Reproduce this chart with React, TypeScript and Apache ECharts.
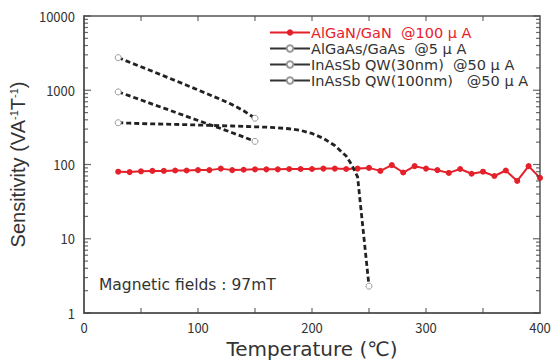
import React, { useEffect, useRef } from "react";
import * as echarts from "echarts";

const redTemps = [30, 40, 50, 60, 70, 80, 90, 100, 110, 120, 130, 140, 150, 160, 170, 180, 190, 200, 210, 220, 230, 240, 250, 260, 270, 280, 290, 300, 310, 320, 330, 340, 350, 360, 370, 380, 390, 400];
const redValues = [80, 79, 81, 82, 82, 83, 83, 84, 84, 88, 84, 85, 86, 86, 86, 87, 87, 87, 88, 88, 87, 88, 90, 82, 98, 78, 95, 88, 84, 77, 87, 75, 80, 70, 83, 60, 95, 66];

const gaasTemps = [30, 40, 50, 60, 70, 80, 90, 100, 110, 120, 130, 140, 150, 160, 170, 180, 190, 200, 210, 220, 230, 235, 240, 250];
const gaasValues = [365, 360, 356, 352, 350, 347, 344, 340, 337, 333, 330, 326, 322, 318, 312, 303, 288, 262, 225, 180, 130, 98, 68, 2.3];

const qwTemps = [30, 40, 50, 60, 70, 80, 90, 100, 110, 120, 130, 140, 150];
const qw30Values = [2750, 2380, 2070, 1800, 1560, 1350, 1170, 1010, 870, 750, 640, 530, 420];
const qw100Values = [950, 840, 740, 650, 575, 505, 445, 392, 345, 305, 268, 235, 205];

const yMajorTicks = [1, 10, 100, 1000, 10000];
const yMinorTicks = [2, 3, 4, 5, 6, 7, 8, 9, 20, 30, 40, 50, 60, 70, 80, 90, 200, 300, 400, 500, 600, 700, 800, 900, 2000, 3000, 4000, 5000, 6000, 7000, 8000, 9000];
const xTicks = [50, 100, 150, 200, 250, 300, 350];

const names = [
  "AlGaN/GaN  @100 μ A",
  "AlGaAs/GaAs  @5 μ A",
  "InAsSb QW(30nm)  @50 μ A",
  "InAsSb QW(100nm)   @50 μ A",
];

const FONT = "'Noto Sans CJK JP', 'Noto Sans', sans-serif";
const WIDE = "'DejaVu Sans', sans-serif";
const AXIS_COLOR = "#555";
const X_MIN = 0;
const X_MAX = 400;
const Y_MIN = 1;
const Y_MAX = 10000;

function pairs(xs: number[], ys: number[]) {
  return xs.map((x, i) => [x, ys[i]]);
}

export default function App() {
  const ref = useRef<HTMLDivElement>(null);
  useEffect(() => {
    if (!ref.current) return;
    const chart = echarts.init(ref.current, null, { renderer: "svg" });
    const blackSeries = (name: string, xs: number[], ys: number[]) => ({
      name,
      type: "line",
      data: pairs(xs, ys).map((p, i, arr) => ({
        value: p,
        symbol: i === 0 || i === arr.length - 1 ? "circle" : "none",
      })),
      symbol: "circle",
      symbolSize: 6,
      itemStyle: { color: "#fff", borderColor: "#999", borderWidth: 1 },
      lineStyle: { color: "#222", width: 2.8, type: [5, 3] },
      z: 3,
    });
    // inward tick marks drawn as tiny rect symbols at the tick values on the four frame edges
    const tickSeries = (data: number[][], size: number[], offset: number[]) => ({
      type: "scatter",
      data,
      symbol: "rect",
      symbolSize: size,
      symbolOffset: offset,
      itemStyle: { color: "#444" },
      silent: true,
      clip: false,
      z: 10,
    });
    const legendLine = { type: "solid", width: 2, color: "#333" };
    chart.setOption({
      animation: false,
      backgroundColor: "#fff",
      grid: {
        left: 84,
        right: 16,
        top: 16,
        bottom: 51,
        containLabel: false,
        show: true,
        borderColor: AXIS_COLOR,
        borderWidth: 1.5,
      },
      xAxis: {
        type: "value",
        min: X_MIN,
        max: X_MAX,
        interval: 100,
        axisLine: { show: true, onZero: false, lineStyle: { color: AXIS_COLOR, width: 1.5 } },
        axisTick: { show: false },
        axisLabel: { fontFamily: FONT, fontSize: 13, color: "#333", margin: 8 },
        splitLine: { show: false },
        name: "Temperature (℃)",
        nameLocation: "middle",
        nameGap: 26,
        nameTextStyle: { fontFamily: WIDE, fontSize: 20, color: "#333" },
      },
      yAxis: {
        type: "log",
        logBase: 10,
        min: Y_MIN,
        max: Y_MAX,
        axisLine: { show: true, onZero: false, lineStyle: { color: AXIS_COLOR, width: 1.5 } },
        axisTick: { show: false },
        axisLabel: {
          fontFamily: FONT,
          fontSize: 13,
          color: "#333",
          margin: 9,
          formatter: (v: number) => String(v),
        },
        splitLine: { show: false },
        name: "Sensitivity (VA{sup|-1}T{sup|-1})",
        nameLocation: "middle",
        nameGap: 41,
        nameTextStyle: {
          fontFamily: "'Liberation Sans', Arial, sans-serif",
          fontSize: 20,
          color: "#333",
          rich: {
            sup: { fontSize: 11, fontFamily: "'Liberation Sans', Arial, sans-serif", color: "#333", padding: [0, 0, 9, 0] },
          },
        },
      },
      legend: {
        orient: "vertical",
        left: 264,
        top: 20,
        itemWidth: 40,
        itemHeight: 8,
        itemGap: 1,
        textStyle: { fontFamily: WIDE, fontSize: 14.5, lineHeight: 14, color: "#333", padding: [0, 0, 0, -4] },
        data: [
          { name: names[0], textStyle: { color: "#e8202a" } },
          { name: names[1], lineStyle: legendLine },
          { name: names[2], lineStyle: legendLine },
          { name: names[3], lineStyle: legendLine },
        ],
      },
      graphic: [
        {
          type: "text",
          left: 99,
          top: 277,
          style: { text: "Magnetic fields : 97mT", fontFamily: WIDE, fontSize: 15.5, fill: "#333" },
        },
      ],
      series: [
        {
          name: names[0],
          type: "line",
          data: pairs(redTemps, redValues),
          symbol: "circle",
          symbolSize: 6,
          itemStyle: { color: "#e4202a" },
          lineStyle: { color: "#e4202a", width: 2 },
          z: 2,
        },
        blackSeries(names[1], gaasTemps, gaasValues),
        blackSeries(names[2], qwTemps, qw30Values),
        blackSeries(names[3], qwTemps, qw100Values),
        tickSeries(yMajorTicks.map((v) => [X_MIN, v]), [7, 1.2], [3.5, 0]),
        tickSeries(yMajorTicks.map((v) => [X_MAX, v]), [7, 1.2], [-3.5, 0]),
        tickSeries(yMinorTicks.map((v) => [X_MIN, v]), [4, 1.2], [2, 0]),
        tickSeries(yMinorTicks.map((v) => [X_MAX, v]), [4, 1.2], [-2, 0]),
        tickSeries(xTicks.map((v) => [v, Y_MIN]), [1.2, 5], [0, -2.5]),
        tickSeries(xTicks.map((v) => [v, Y_MAX]), [1.2, 5], [0, 2.5]),
      ],
    });
    return () => chart.dispose();
  }, []);
  return <div ref={ref} style={{ width: 556, height: 364, position: "absolute", left: 0, top: 0 }} />;
}
